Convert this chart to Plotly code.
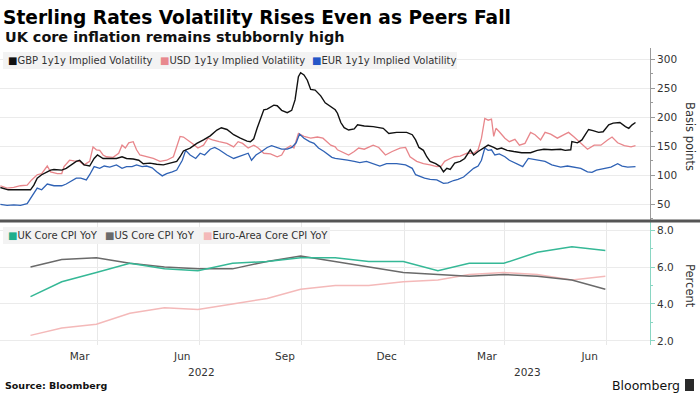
import plotly.graph_objects as go

# ---------------- data ----------------
gbp_dates = [
'2022-01-04','2022-01-11','2022-01-31','2022-02-03','2022-02-06','2022-02-10','2022-02-15','2022-02-18','2022-02-21','2022-02-28',
'2022-03-04','2022-03-08','2022-03-13','2022-03-16','2022-03-20','2022-03-25','2022-03-29','2022-04-01','2022-04-06','2022-04-12',
'2022-04-18','2022-04-23','2022-04-27','2022-05-03','2022-05-08','2022-05-12','2022-05-18','2022-05-24','2022-05-30','2022-06-05',
'2022-06-11','2022-06-14','2022-06-17','2022-06-23','2022-06-29','2022-07-05','2022-07-11','2022-07-17','2022-07-21','2022-07-26',
'2022-08-01','2022-08-07','2022-08-13','2022-08-16','2022-08-19','2022-08-22','2022-08-25','2022-08-28','2022-08-31','2022-09-06',
'2022-09-09','2022-09-13','2022-09-18','2022-09-22','2022-09-25','2022-09-28','2022-09-30','2022-10-03','2022-10-06','2022-10-09',
'2022-10-13','2022-10-18','2022-10-22','2022-10-27','2022-10-31','2022-11-02','2022-11-05','2022-11-08','2022-11-12','2022-11-17',
'2022-11-20','2022-11-26','2022-12-04','2022-12-13','2022-12-18','2022-12-25','2023-01-03','2023-01-08','2023-01-11','2023-01-14',
'2023-01-18','2023-01-21','2023-01-24','2023-01-29','2023-02-02','2023-02-05','2023-02-08','2023-02-11','2023-02-15','2023-02-20',
'2023-02-24','2023-03-01','2023-03-04','2023-03-08','2023-03-13','2023-03-17','2023-03-22','2023-03-25','2023-03-29','2023-04-03',
'2023-04-09','2023-04-16','2023-04-24','2023-04-30','2023-05-06','2023-05-13','2023-05-21','2023-05-25','2023-05-30','2023-05-31',
'2023-06-05','2023-06-09','2023-06-12','2023-06-15','2023-06-19','2023-06-24','2023-06-28','2023-07-03','2023-07-07','2023-07-13',
'2023-07-18','2023-07-21','2023-07-24','2023-07-27']
gbp_vals = [
79,75,75,83,95,101,106,109,110,109,
112,118,124,126,118,116,129,135,129,129,
129,132,129,128,126,120,121,119,118,121,
124,132,142,147,155,161,168,178,182,179,
170,164,159,158,163,181,198,213,214,221,
220,212,208,212,230,270,277,273,264,248,
247,237,225,218,213,207,191,182,178,180,
187,185,184,181,172,174,174,170,161,148,
143,132,124,120,115,106,112,110,121,124,
129,144,135,141,147,152,148,145,147,143,
141,139,139,143,145,144,145,143,144,158,
156,161,170,179,177,174,175,187,190,191,
184,181,187,191]

usd_dates = [
'2022-01-04','2022-01-10','2022-01-16','2022-01-22','2022-01-28','2022-02-01','2022-02-06','2022-02-10','2022-02-15','2022-02-18',
'2022-02-24','2022-02-28','2022-03-02','2022-03-07','2022-03-11','2022-03-16','2022-03-20','2022-03-25','2022-03-28','2022-03-31',
'2022-04-03','2022-04-06','2022-04-09','2022-04-15','2022-04-20','2022-04-23','2022-04-26','2022-04-29','2022-05-03','2022-05-06',
'2022-05-09','2022-05-15','2022-05-21','2022-05-27','2022-06-02','2022-06-08','2022-06-14','2022-06-17','2022-06-21','2022-06-25',
'2022-06-30','2022-07-05','2022-07-09','2022-07-13','2022-07-19','2022-07-26','2022-08-01','2022-08-05','2022-08-09','2022-08-14',
'2022-08-19','2022-08-23','2022-08-28','2022-09-03','2022-09-09','2022-09-13','2022-09-16','2022-09-21','2022-09-24','2022-09-28',
'2022-10-03','2022-10-09','2022-10-15','2022-10-20','2022-10-27','2022-10-31','2022-11-02','2022-11-08','2022-11-12','2022-11-17',
'2022-11-21','2022-11-26','2022-11-30','2022-12-04','2022-12-09','2022-12-15','2022-12-21','2022-12-28','2023-01-02','2023-01-06',
'2023-01-12','2023-01-18','2023-01-24','2023-01-30','2023-02-03','2023-02-06','2023-02-11','2023-02-15','2023-02-20','2023-02-26',
'2023-03-04','2023-03-08','2023-03-11','2023-03-14','2023-03-17','2023-03-20','2023-03-22','2023-03-24','2023-03-27','2023-04-01',
'2023-04-05','2023-04-10','2023-04-14','2023-04-19','2023-04-24','2023-04-28','2023-05-03','2023-05-07','2023-05-12','2023-05-18',
'2023-05-24','2023-05-28','2023-06-02','2023-06-08','2023-06-14','2023-06-20','2023-06-26','2023-07-02','2023-07-06','2023-07-11',
'2023-07-17','2023-07-23','2023-07-27']
usd_vals = [
82,78,79,82,83,92,101,103,116,106,
103,103,115,126,125,124,118,124,149,144,
143,135,132,131,138,152,147,156,158,144,
135,132,129,124,126,132,167,166,161,155,
147,152,164,161,158,155,149,158,155,147,
152,147,138,137,132,135,145,151,147,172,
167,164,166,164,152,149,144,138,135,141,
147,145,149,152,148,135,141,147,148,132,
124,120,118,115,116,124,129,132,133,138,
138,144,164,198,195,197,167,181,175,164,
158,162,152,155,174,170,161,174,171,164,
170,174,166,156,145,152,152,161,166,156,
151,149,151]

eur_dates = [
'2022-01-04','2022-01-10','2022-01-16','2022-01-22','2022-01-28','2022-01-31','2022-02-03','2022-02-06','2022-02-10','2022-02-15',
'2022-02-21','2022-02-28','2022-03-04','2022-03-08','2022-03-13','2022-03-17','2022-03-22','2022-03-25','2022-03-29','2022-04-03',
'2022-04-07','2022-04-12','2022-04-18','2022-04-23','2022-04-27','2022-05-02','2022-05-06','2022-05-11','2022-05-15','2022-05-20',
'2022-05-24','2022-05-29','2022-06-02','2022-06-07','2022-06-11','2022-06-16','2022-06-19','2022-06-23','2022-06-28','2022-07-02',
'2022-07-06','2022-07-11','2022-07-15','2022-07-19','2022-07-26','2022-08-01','2022-08-05','2022-08-09','2022-08-14','2022-08-17',
'2022-08-21','2022-08-26','2022-08-31','2022-09-04','2022-09-09','2022-09-13','2022-09-18','2022-09-22','2022-09-26','2022-09-29',
'2022-10-03','2022-10-08','2022-10-12','2022-10-16','2022-10-21','2022-10-25','2022-10-28','2022-10-31','2022-11-05','2022-11-11',
'2022-11-17','2022-11-22','2022-11-28','2022-12-04','2022-12-10','2022-12-16','2022-12-25','2023-01-02','2023-01-08','2023-01-11',
'2023-01-15','2023-01-19','2023-01-24','2023-01-30','2023-02-05','2023-02-09','2023-02-14','2023-02-18','2023-02-23','2023-02-27',
'2023-03-04','2023-03-08','2023-03-11','2023-03-14','2023-03-17','2023-03-20','2023-03-23','2023-03-27','2023-04-01','2023-04-05',
'2023-04-11','2023-04-17','2023-04-22','2023-04-26','2023-05-01','2023-05-07','2023-05-13','2023-05-21','2023-05-27','2023-06-02',
'2023-06-08','2023-06-14','2023-06-18','2023-06-22','2023-06-29','2023-07-05','2023-07-11','2023-07-15','2023-07-20','2023-07-24',
'2023-07-27']
eur_vals = [
50,48,49,48,51,60,69,78,75,85,
82,82,85,89,95,95,92,101,115,112,
116,114,118,112,115,115,118,115,116,113,
106,99,103,106,109,126,143,135,129,138,
135,145,148,144,135,129,132,135,138,126,
135,141,148,151,148,145,145,148,156,171,
164,158,155,147,141,135,131,129,128,126,
124,122,124,120,116,120,120,118,112,101,
98,95,93,92,86,87,91,93,97,103,
112,116,126,147,143,144,135,137,132,126,
121,115,129,128,126,124,118,114,116,114,
112,106,105,109,112,114,120,116,114,115,
115]

cpi_months = ['2022-01-31','2022-02-28','2022-03-31','2022-04-30','2022-05-31','2022-06-30',
              '2022-07-31','2022-08-31','2022-09-30','2022-10-31','2022-11-30','2022-12-31',
              '2023-01-31','2023-02-28','2023-03-31','2023-04-30','2023-05-31','2023-06-30']
uk_cpi = [4.4, 5.2, 5.7, 6.2, 5.9, 5.8, 6.2, 6.3, 6.5, 6.5, 6.3, 6.3, 5.8, 6.2, 6.2, 6.8, 7.1, 6.9]
us_cpi = [6.0, 6.4, 6.5, 6.2, 6.0, 5.9, 5.9, 6.3, 6.6, 6.3, 6.0, 5.7, 5.6, 5.5, 5.6, 5.5, 5.3, 4.8]
ea_cpi = [2.3, 2.7, 2.9, 3.5, 3.8, 3.7, 4.0, 4.3, 4.8, 5.0, 5.0, 5.2, 5.3, 5.6, 5.7, 5.6, 5.3, 5.5]

month_tick_dates = ['2022-03-16','2022-06-16','2022-09-16','2022-12-16','2023-03-16','2023-06-16']
month_tick_labels = ['Mar', 'Jun', 'Sep', 'Dec', 'Mar', 'Jun']
year_label_dates = ['2022-07-03', '2023-04-21']
year_labels = ['2022', '2023']
bp_ticks = [50, 100, 150, 200, 250, 300]
pct_ticks = [2, 4, 6, 8]

top_names = ['GBP 1y1y Implied Volatility', 'USD 1y1y Implied Volatility', 'EUR 1y1y Implied Volatility']
bot_names = ['UK Core CPI YoY', 'US Core CPI YoY', 'Euro-Area Core CPI YoY']

# ---------------- styling ----------------
FONT = 'DejaVu Sans'
C_GBP, C_USD, C_EUR = '#111111', '#e8868b', '#2f62b5'
C_UK, C_US, C_EA = '#35b896', '#6a6a6a', '#f4b9b9'
W, H = 700, 394
ML, MR, MT, MB = 0, 50, 48, 49
PW, PH = W - ML - MR, H - MT - MB
SPLIT_PX = 221


def px_x(px):
    return (px - ML) / PW


def px_y(py):
    return (H - MB - py) / PH


split = px_y(SPLIT_PX)

fig = go.Figure()
fig.add_trace(go.Scatter(x=usd_dates, y=usd_vals, mode='lines', name=top_names[1],
                         line=dict(color=C_USD, width=1.3), xaxis='x', yaxis='y', showlegend=False))
fig.add_trace(go.Scatter(x=eur_dates, y=eur_vals, mode='lines', name=top_names[2],
                         line=dict(color=C_EUR, width=1.3), xaxis='x', yaxis='y', showlegend=False))
fig.add_trace(go.Scatter(x=gbp_dates, y=gbp_vals, mode='lines', name=top_names[0],
                         line=dict(color=C_GBP, width=1.4), xaxis='x', yaxis='y', showlegend=False))
fig.add_trace(go.Scatter(x=cpi_months, y=ea_cpi, mode='lines', name=bot_names[2],
                         line=dict(color=C_EA, width=1.5), xaxis='x2', yaxis='y2', showlegend=False))
fig.add_trace(go.Scatter(x=cpi_months, y=us_cpi, mode='lines', name=bot_names[1],
                         line=dict(color=C_US, width=1.5), xaxis='x2', yaxis='y2', showlegend=False))
fig.add_trace(go.Scatter(x=cpi_months, y=uk_cpi, mode='lines', name=bot_names[0],
                         line=dict(color=C_UK, width=1.5), xaxis='x2', yaxis='y2', showlegend=False))

x_range = ['2022-01-03 16:00', '2023-08-09']
grid_minor = dict(dtick='M3', tick0='2022-01-01', showgrid=True, gridcolor='#e8e8e8', gridwidth=1, ticks='')
tickfont = dict(family=FONT, size=10.5, color='#333333')

fig.update_layout(
    width=W, height=H,
    margin=dict(l=ML, r=MR, t=MT, b=MB),
    paper_bgcolor='white', plot_bgcolor='white',
    showlegend=False,
    template='none',
    title=dict(text='<b>Sterling Rates Volatility Rises Even as Peers Fall</b>',
               font=dict(family=FONT, size=18.6, color='#000000'),
               x=3 / W, xanchor='left', y=1 - 17 / H, yanchor='middle'),
    xaxis=dict(domain=[0, 1], anchor='y', range=x_range, type='date',
               showticklabels=False, showgrid=False, zeroline=False, showline=False, ticks='',
               minor=grid_minor),
    xaxis2=dict(domain=[0, 1], anchor='y2', range=x_range, type='date', matches='x',
                tickmode='array', tickvals=month_tick_dates, ticktext=month_tick_labels,
                showgrid=False, zeroline=False, showline=False, ticks='', ticklabelstandoff=3,
                tickfont=tickfont, minor=grid_minor),
    yaxis=dict(domain=[split, 1], anchor='x', side='right', range=[21.2, 319.5],
               tickmode='array', tickvals=bp_ticks, showgrid=True, gridcolor='#ebebeb',
               zeroline=False, showline=True, linecolor='#9a9a9a', linewidth=1,
               ticks='outside', ticklen=4, tickcolor='#9a9a9a', tickfont=tickfont,
               minor=dict(dtick=25, tick0=0, ticks='outside', ticklen=2, tickcolor='#9a9a9a', showgrid=False),
               automargin=False),
    yaxis2=dict(domain=[0, split], anchor='x2', side='right', range=[1.78, 8.49],
                tickmode='array', tickvals=pct_ticks, tickformat='.1f', showgrid=True, gridcolor='#ebebeb',
                zeroline=False, showline=True, linecolor='#8ad6c3', linewidth=1,
                ticks='outside', ticklen=4, tickcolor='#8ad6c3', tickfont=tickfont,
                minor=dict(dtick=1, tick0=0, ticks='outside', ticklen=2, tickcolor='#8ad6c3', showgrid=False),
                automargin=False),
)

shapes = []
# legend backgrounds
shapes.append(dict(type='rect', xref='paper', yref='paper', layer='above',
                   x0=px_x(3), x1=px_x(457), y0=px_y(69), y1=px_y(52),
                   fillcolor='rgba(242,242,242,0.92)', line=dict(width=0)))
shapes.append(dict(type='rect', xref='paper', yref='paper', layer='above',
                   x0=px_x(3), x1=px_x(330), y0=px_y(244), y1=px_y(227),
                   fillcolor='rgba(242,242,242,0.92)', line=dict(width=0)))
# panel separator
shapes.append(dict(type='line', xref='paper', yref='paper', layer='above',
                   x0=px_x(0), x1=px_x(W), y0=split, y1=split,
                   line=dict(color='#555555', width=3)))
# Bloomberg logo mark
shapes.append(dict(type='rect', xref='paper', yref='paper',
                   x0=px_x(685), x1=px_x(694), y0=px_y(391), y1=px_y(379),
                   fillcolor='#2a2a2a', line=dict(width=0)))
fig.update_layout(shapes=shapes)

ann = []
ann.append(dict(text='<b>UK core inflation remains stubbornly high</b>', xref='paper', yref='paper',
                x=px_x(3), y=px_y(37), xanchor='left', yanchor='middle', showarrow=False,
                font=dict(family=FONT, size=14.4, color='#111111')))

leg_font = dict(family=FONT, size=10, color='#333333')
for name, col, xp in zip(top_names, [C_GBP, '#e8898e', '#2456c8'], [6, 158, 310]):
    ann.append(dict(text=f'<span style="color:{col}">■</span>{name}', xref='paper', yref='paper',
                    x=px_x(xp), y=px_y(60.5), xanchor='left', yanchor='middle', showarrow=False,
                    font=leg_font))
for name, col, xp in zip(bot_names, ['#1fae8c', C_US, C_EA], [6, 103, 201]):
    ann.append(dict(text=f'<span style="color:{col}">■</span>{name}', xref='paper', yref='paper',
                    x=px_x(xp), y=px_y(235.5), xanchor='left', yanchor='middle', showarrow=False,
                    font=leg_font))

# axis titles
ann.append(dict(text='Basis points', xref='paper', yref='paper', x=px_x(690), y=px_y(136),
                xanchor='center', yanchor='middle', textangle=90, showarrow=False,
                font=dict(family=FONT, size=11.5, color='#333333')))
ann.append(dict(text='Percent', xref='paper', yref='paper', x=px_x(690), y=px_y(286),
                xanchor='center', yanchor='middle', textangle=90, showarrow=False,
                font=dict(family=FONT, size=11.5, color='#333333')))

# year labels
for d, t in zip(year_label_dates, year_labels):
    ann.append(dict(text=t, xref='x2', yref='paper', x=d, y=px_y(372),
                    xanchor='center', yanchor='middle', showarrow=False, font=tickfont))

# footer
ann.append(dict(text='<b>Source: Bloomberg</b>', xref='paper', yref='paper', x=px_x(3), y=px_y(385),
                xanchor='left', yanchor='middle', showarrow=False,
                font=dict(family=FONT, size=9.5, color='#111111')))
ann.append(dict(text='Bloomberg', xref='paper', yref='paper', x=px_x(682), y=px_y(385),
                xanchor='right', yanchor='middle', showarrow=False,
                font=dict(family=FONT, size=12.5, color='#111111')))
fig.update_layout(annotations=ann)

# the page's default 8px body margin would shift the 700x394 figure; remove it
fig.write_html('out.html', config={'displayModeBar': False},
               post_script="document.body.style.margin='0';")
